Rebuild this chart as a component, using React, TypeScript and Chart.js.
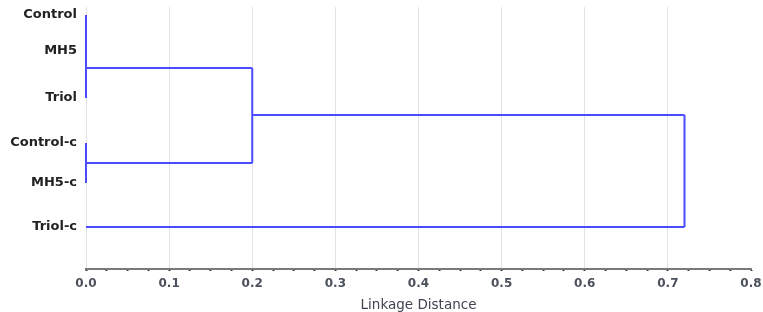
import React, { useEffect, useRef } from "react";
import { Chart, registerables } from "chart.js";

Chart.register(...registerables);

// Leaves (top to bottom) and their vertical positions (percent of plot height)
const leafLabels = ["Control", "MH5", "Triol", "Control-c", "MH5-c", "Triol-c"];
const leafPos = [3.1, 16.8, 34.7, 51.9, 67.2, 84.0];

// Clusters: merge distance, vertical position of the stem, members (L# = leaf, C# = cluster)
const clusterHeights = [0.0, 0.0, 0.2, 0.72];
const clusterPos = [23.3, 59.5, 41.2, 62.6];
const clusterMembers = [
  ["L0", "L1", "L2"],
  ["L3", "L4"],
  ["C0", "C1"],
  ["C2", "L5"],
];

const xTickMin = 0;
const xTickMax = 0.8;
const xMinorStep = 0.025;
const axisTitle = "Linkage Distance";

const LINE = "#4b4bff";

function nodeInfo(id: string) {
  const idx = parseInt(id.slice(1), 10);
  if (id[0] === "L") return { x: 0, y: leafPos[idx] };
  return { x: clusterHeights[idx], y: clusterPos[idx] };
}

function buildSegments() {
  const segs: { x: number; y: number }[][] = [];
  clusterMembers.forEach((members, ci) => {
    const h = clusterHeights[ci];
    const kids = members.map(nodeInfo);
    const ys = kids.map((k) => k.y);
    segs.push([
      { x: h, y: Math.min(...ys) },
      { x: h, y: Math.max(...ys) },
    ]);
    kids.forEach((k) => {
      if (k.x !== h) segs.push([{ x: k.x, y: k.y }, { x: h, y: k.y }]);
    });
  });
  return segs;
}

function isMajor(v: number) {
  return Math.abs(v * 10 - Math.round(v * 10)) < 1e-6;
}

export default function App() {
  const ref = useRef<HTMLCanvasElement | null>(null);
  useEffect(() => {
    if (!ref.current) return;
    const segs = buildSegments();
    const chart = new Chart(ref.current, {
      type: "scatter",
      data: {
        datasets: segs.map((s) => ({
          data: s,
          showLine: true,
          borderColor: LINE,
          backgroundColor: LINE,
          borderWidth: 2,
          pointRadius: 0,
          pointHoverRadius: 0,
          clip: false as any,
        })),
      },
      options: {
        animation: false,
        responsive: true,
        maintainAspectRatio: false,
        layout: { padding: { top: 7, right: 12, left: 0, bottom: 0 } },
        plugins: { legend: { display: false }, tooltip: { enabled: false } },
        scales: {
          x: {
            type: "linear",
            min: xTickMin,
            max: xTickMax,
            afterFit: (s: any) => {
              s.height = 43;
              s.paddingLeft = 0;
              s.paddingRight = 0;
            },
            border: { display: true, color: "#7a7a7a", width: 2 },
            grid: {
              color: (ctx: any) => {
                const v = ctx.tick ? ctx.tick.value : 0;
                return isMajor(v) && v < xTickMax - 1e-6 ? "#e2e2e2" : "rgba(0,0,0,0)";
              },
              lineWidth: 1,
              drawTicks: true,
              tickLength: 2,
              tickColor: "#333",
              tickWidth: 2,
            },
            ticks: {
              stepSize: xMinorStep,
              autoSkip: false,
              maxRotation: 0,
              padding: 6,
              color: "#4a505c",
              font: { family: "DejaVu Sans", size: 12, weight: "bold" },
              callback: (v: any) => (isMajor(Number(v)) ? Number(v).toFixed(1) : ""),
            },
            title: {
              display: true,
              text: axisTitle,
              color: "#3f4450",
              font: { family: "DejaVu Sans", size: 13.5 },
              padding: { top: 2, bottom: -2 },
            },
          },
          y: {
            type: "linear",
            reverse: true,
            min: 0,
            max: 100,
            afterFit: (s: any) => {
              s.width = 86;
              s.paddingTop = 0;
              s.paddingBottom = 0;
            },
            afterBuildTicks: (s: any) => {
              s.ticks = leafPos.map((v) => ({ value: v }));
            },
            border: { display: false },
            grid: { display: false, drawTicks: false },
            ticks: {
              autoSkip: false,
              padding: 9,
              color: "#222",
              font: { family: "DejaVu Sans", size: 13, weight: "bold" },
              callback: (_v: any, i: number) => leafLabels[i],
            },
          },
        },
      },
    });
    return () => chart.destroy();
  }, []);
  return (
    <div style={{ position: "fixed", left: 0, top: 0, width: 763, height: 312, background: "#fff" }}>
      <canvas ref={ref} />
    </div>
  );
}
